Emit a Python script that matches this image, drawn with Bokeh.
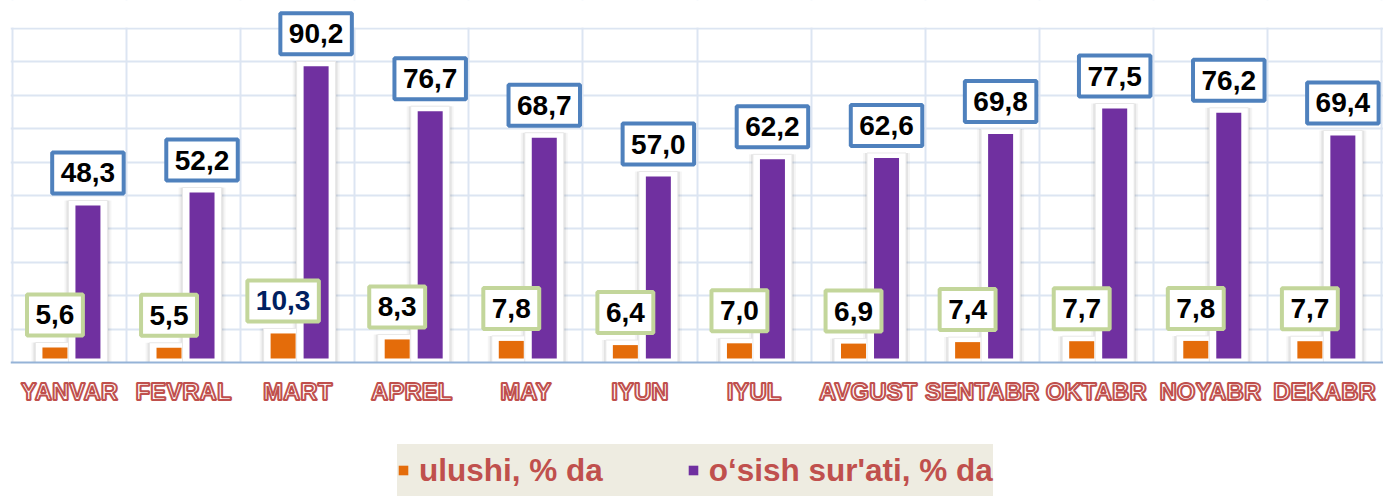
from bokeh.plotting import figure
from bokeh.models import (ColumnDataSource, FactorRange, Range1d, LabelSet, Legend,
                          LegendItem, FixedTicker, Grid, BoxAnnotation)
from bokeh.transform import dodge
from bokeh.core.properties import value
from bokeh.embed import file_html
from bokeh.resources import INLINE

# ---------------- data ----------------
months = ["YANVAR", "FEVRAL", "MART", "APREL", "MAY", "IYUN", "IYUL",
          "AVGUST", "SENTABR", "OKTABR", "NOYABR", "DEKABR"]
share = [5.6, 5.5, 10.3, 8.3, 7.8, 6.4, 7.0, 6.9, 7.4, 7.7, 7.8, 7.7]
growth = [48.3, 52.2, 90.2, 76.7, 68.7, 57.0, 62.2, 62.6, 69.8, 77.5, 76.2, 69.4]
share_name = "ulushi, % da"
growth_name = "o‘sish sur'ati, % da"

# ---------------- styling / axis settings ----------------
ORANGE = "#E46C0A"
PURPLE = "#7030A0"
BLUE_BOX = "#4F81BD"
GREEN_BOX = "#C3D69B"
RED_TXT = "#C0504D"
GRID_C = "#DCE5F2"
FONT = "Liberation Sans"

W, H = 1383, 499
MB_LEFT, MB_RIGHT, MB_TOP, MB_BOTTOM = 10, 0, 0, 0
BASE_PX = 358          # screen row where the bars start
AXIS_GAP = 4           # axis line sits this many px below the bars' base
BAND_PX = 33.4         # height of one horizontal grid band
BELOW = H - BASE_PX
ABOVE = BASE_PX - MB_TOP

# primary (growth) axis: 3.32 px per unit, bars start at 2.2
P_SCALE, P_BASE = 3.32, 2.2
P_AXIS = P_BASE - AXIS_GAP / P_SCALE
P_RANGE = Range1d(P_BASE - BELOW / P_SCALE, P_BASE + ABOVE / P_SCALE)
# secondary (share) axis: 2.98 px per unit, bars start at 1.9
S_SCALE, S_BASE = 2.98, 1.9
S_AXIS = S_BASE - AXIS_GAP / S_SCALE
S_RANGE = Range1d(S_BASE - BELOW / S_SCALE, S_BASE + ABOVE / S_SCALE)

GRID_TICKS = [P_AXIS + k * BAND_PX / P_SCALE for k in range(1, 11)]

X_PAD = 0.0175
CAT_PX = (W - MB_LEFT - MB_RIGHT) / (len(months) + 2 * X_PAD)
OFF_S_PX, OFF_G_PX = -14.6, 18.4
OFF_S = OFF_S_PX / CAT_PX
OFF_G = OFF_G_PX / CAT_PX
BAR_W = 25 / CAT_PX
FRAME_W = 39 / CAT_PX
SHADOW_W1 = 43 / CAT_PX
SHADOW_W2 = 47 / CAT_PX

LBL_SIZE = 28          # px, value label font
BOX_H = 41             # px, label box height (inside the border line)
BOX_LIFT = 32.5        # px from bar top to label box centre


def fmt(v):
    return f"{v:.1f}".replace(".", ",")


def box_w(s):
    return sum(0.556 * LBL_SIZE if c.isdigit() else 0.278 * LBL_SIZE for c in s) + 17


share_txt = [fmt(v) for v in share]
growth_txt = [fmt(v) for v in growth]

src = ColumnDataSource(dict(
    month=months,
    share=share,
    growth=growth,
    share_txt=share_txt,
    growth_txt=growth_txt,
    share_frame=[v + 5 / S_SCALE for v in share],
    growth_frame=[v + 5 / P_SCALE for v in growth],
    share_box_y=[v + BOX_LIFT / S_SCALE for v in share],
    growth_box_y=[v + BOX_LIFT / P_SCALE for v in growth],
    share_box_w=[box_w(s) for s in share_txt],
    growth_box_w=[box_w(s) for s in growth_txt],
    share_color=["#002060" if v == max(share) else "black" for v in share],
))

p = figure(width=W, height=H, output_backend="svg", toolbar_location=None,
           x_range=FactorRange(factors=months, range_padding=X_PAD,
                               range_padding_units="absolute"),
           y_range=P_RANGE,
           min_border_left=MB_LEFT, min_border_right=MB_RIGHT,
           min_border_top=MB_TOP, min_border_bottom=MB_BOTTOM)
p.extra_y_ranges = {"sec": S_RANGE}
p.outline_line_color = None
p.background_fill_color = "white"
p.border_fill_color = "white"

# grids (10 equal bands above the axis line, lines at category boundaries)
p.ygrid.ticker = FixedTicker(ticks=GRID_TICKS)
p.ygrid.grid_line_color = GRID_C
p.ygrid.grid_line_width = 2
p.xgrid.visible = False
vgrid = Grid(dimension=0, ticker=FixedTicker(ticks=list(range(len(months) + 1))),
             grid_line_color=GRID_C, grid_line_width=2)
p.add_layout(vgrid)
p.add_layout(BoxAnnotation(top=P_AXIS, fill_color="white", fill_alpha=1,
                           line_color=None, level="underlay"))
p.add_layout(BoxAnnotation(bottom=GRID_TICKS[-1] + 1 / P_SCALE, fill_color="white",
                           fill_alpha=1, line_color=None, level="underlay"))

p.yaxis.visible = False

# shadows + white frames
series = [(OFF_S, "share_frame", "sec", S_AXIS), (OFF_G, "growth_frame", "default", P_AXIS)]
for off, top, rng, start in series:
    for w, a in [(SHADOW_W2, 0.04), (SHADOW_W1, 0.07)]:
        p.vbar(x=dodge("month", off, range=p.x_range), top=top, bottom=start,
               width=w, source=src, y_range_name=rng,
               fill_color="black", fill_alpha=a, line_color=None)
for off, top, rng, start in series:
    p.vbar(x=dodge("month", off, range=p.x_range), top=top, bottom=start,
           width=FRAME_W, source=src, y_range_name=rng,
           fill_color="white", line_color="#E8E8E8", line_width=1)

r_share = p.vbar(x=dodge("month", OFF_S, range=p.x_range), top="share", bottom=S_BASE,
                 width=BAR_W, source=src, y_range_name="sec",
                 fill_color=ORANGE, line_color=None)
r_growth = p.vbar(x=dodge("month", OFF_G, range=p.x_range), top="growth", bottom=P_BASE,
                  width=BAR_W, source=src,
                  fill_color=PURPLE, line_color=None)

# value label boxes + texts
for off, ycol, wcol, rng, border, tcol, color in [
        (OFF_S, "share_box_y", "share_box_w", "sec", GREEN_BOX, "share_txt", "share_color"),
        (OFF_G, "growth_box_y", "growth_box_w", "default", BLUE_BOX, "growth_txt", None)]:
    p.rect(x=dodge("month", off, range=p.x_range), y=ycol, width=wcol, height=BOX_H,
           width_units="screen", height_units="screen", source=src, y_range_name=rng,
           fill_color="white", line_color=border, line_width=4)
    p.add_layout(LabelSet(x=dodge("month", off, range=p.x_range), y=ycol, text=tcol,
                          source=src, y_range_name=rng, text_align="center",
                          text_baseline="middle", text_font=value(FONT),
                          text_font_size=f"{LBL_SIZE}px", text_font_style="bold",
                          text_color=color if color else "black"))

# x axis, pinned at the bars' base line
ax = p.xaxis[0]
ax.fixed_location = P_AXIS
ax.axis_line_color = "#95B3D7"
ax.axis_line_width = 2
ax.major_tick_line_color = None
ax.minor_tick_line_color = None
ax.major_tick_out = 0
ax.major_tick_in = 0
ax.major_label_standoff = 15
ax.major_label_text_font = FONT
ax.major_label_text_font_size = "24px"
ax.major_label_text_font_style = "bold"
ax.major_label_text_color = "white"
ax.major_label_text_outline_color = RED_TXT

# legend
legend = Legend(items=[LegendItem(label=share_name, renderers=[r_share]),
                       LegendItem(label=growth_name, renderers=[r_growth])],
                orientation="horizontal", location=(387, 3),
                glyph_width=12, glyph_height=12, label_standoff=10, spacing=84,
                padding=0, margin=0, label_height=52,
                label_text_font=FONT, label_text_font_size="31.5px",
                label_text_font_style="bold", label_text_color=RED_TXT,
                background_fill_color="#EEECE1", background_fill_alpha=1,
                border_line_color=None)
p.add_layout(legend, "center")

open("out.html", "w").write(file_html(p, INLINE))
